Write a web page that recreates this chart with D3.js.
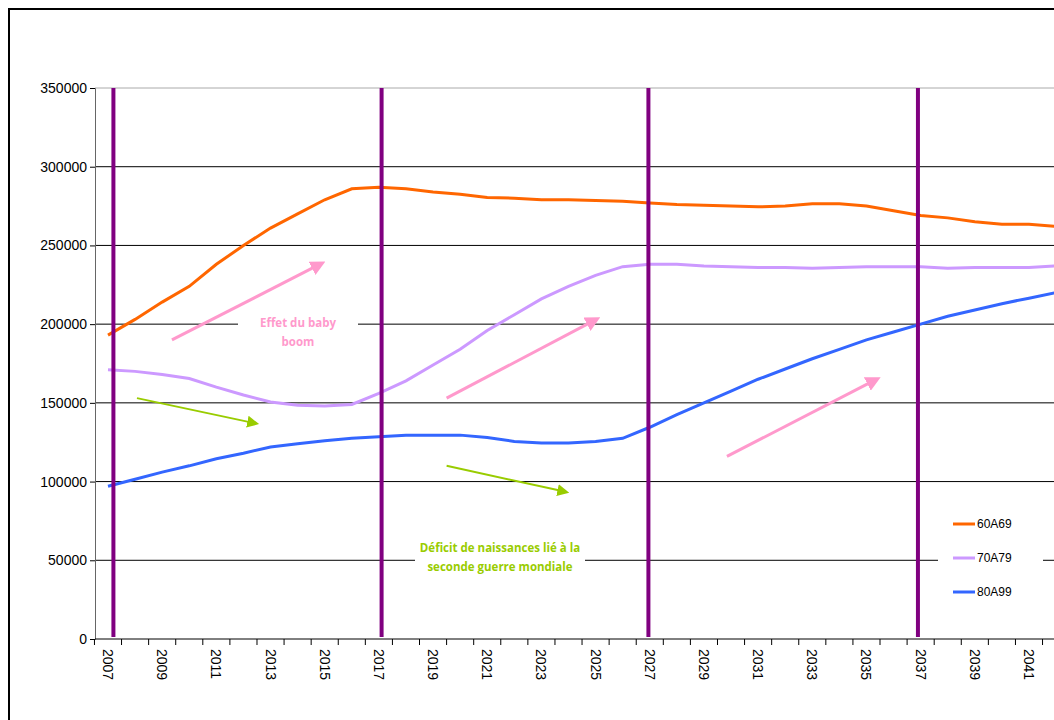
<!DOCTYPE html><html><head><meta charset="utf-8"><script src="https://cdn.jsdelivr.net/npm/d3@7"></script>
<style>body{margin:0;background:#fff}svg{display:block}</style></head><body><svg id="c" width="1054" height="720"></svg>
<script>
const years = d3.range(2007, 2043);
const s60A69 = [193000,203000,214000,224000,238000,250000,261000,270000,279000,286000,287000,286000,284000,282500,280500,280000,279000,279000,278500,278000,277000,276000,275500,275000,274500,275000,276500,276500,275000,272000,269000,267500,265000,263500,263500,262000];
const s70A79 = [171000,170000,168000,165500,160000,155000,150500,148500,148000,149000,156000,164000,174000,184000,196000,206000,216000,224000,231000,236500,238000,238000,237000,236500,236000,236000,235500,236000,236500,236500,236500,235500,236000,236000,236000,237000];
const s80A99 = [97000,101500,106000,110000,114500,118000,122000,124000,126000,127500,128500,129500,129500,129500,128000,125500,124500,124500,125500,127500,134500,142500,150000,157500,165000,171500,178000,184000,190000,195000,200000,205000,209000,213000,216500,220000];
const seriesNames = ["60A69","70A79","80A99"];
const colors = ["#ff6600","#cc99ff","#3366ff"];
const yTicks = [0,50000,100000,150000,200000,250000,300000,350000];
const markerYears = [2007.2,2017.1,2026.95,2036.9];
const pinkArrows = [[2009.36,190000,2015.0,239500],[2019.5,153000,2025.15,204000],[2029.85,116000,2035.5,166000]];
const greenArrows = [[2008.07,153000,2012.6,136500],[2019.5,110000,2024.05,93000]];

const svg = d3.select("#c");
const x = d3.scaleLinear().domain([2007,2041]).range([108,1029]);
const y = d3.scaleLinear().domain([0,350000]).range([639,88]);
const L=95, R=1054;
svg.append("rect").attr("x",9).attr("y",9).attr("width",1100).attr("height",800).attr("fill","none").attr("stroke","#000").attr("stroke-width",2);
const defs=svg.append("defs");
[["pk","#ff99cc"],["gr","#99cc00"]].forEach(([id,c])=>defs.append("marker").attr("id",id).attr("viewBox","0 0 10 10").attr("refX",2).attr("refY",5).attr("markerWidth",id==="pk"?5:6).attr("markerHeight",id==="pk"?5:6).attr("orient","auto").append("path").attr("d","M0,0L10,5L0,10z").attr("fill",c));
svg.append("g").selectAll("line").data(yTicks.slice(1)).join("line").attr("x1",L).attr("x2",R).attr("y1",d=>y(d)).attr("y2",d=>y(d)).attr("stroke",d=>d===350000?"#aaa":"#000").attr("stroke-width",1);
const ya=svg.append("g").attr("transform",`translate(${L},0)`).call(d3.axisLeft(y).tickValues(yTicks).tickFormat(d3.format("d")).tickSize(5));
ya.select(".domain").attr("stroke","#666");
ya.selectAll("text").attr("font-family","Liberation Sans, Arial").attr("font-size",14).attr("fill","#000");
svg.append("line").attr("x1",L).attr("x2",R).attr("y1",639).attr("y2",639).attr("stroke","#000");
const xa=svg.append("g");
d3.range(2007,2043).forEach(yr=>{xa.append("line").attr("x1",x(yr-0.5)).attr("x2",x(yr-0.5)).attr("y1",639).attr("y2",645).attr("stroke","#000");});
xa.selectAll("text").data(years.filter(d=>(d-2007)%2===0)).join("text").attr("transform",d=>`translate(${x(d)-5},649) rotate(90)`).attr("font-family","Liberation Sans, Arial").attr("font-size",14).text(d=>d);
const line=d3.line().x((d,i)=>x(years[i])).y(d=>y(d));
[s60A69,s70A79,s80A99].forEach((s,i)=>svg.append("path").attr("d",line(s)).attr("fill","none").attr("stroke",colors[i]).attr("stroke-width",3));
svg.selectAll(".mk").data(markerYears).join("line").attr("x1",d=>x(d)).attr("x2",d=>x(d)).attr("y1",88).attr("y2",637).attr("stroke","#800080").attr("stroke-width",4);
pinkArrows.forEach(a=>svg.append("line").attr("x1",x(a[0])).attr("y1",y(a[1])).attr("x2",x(a[2])-10).attr("y2",y(a[3])+5).attr("stroke","#ff99cc").attr("stroke-width",3).attr("marker-end","url(#pk)"));
greenArrows.forEach(a=>svg.append("line").attr("x1",x(a[0])).attr("y1",y(a[1])).attr("x2",x(a[2])-10).attr("y2",y(a[3])-2).attr("stroke","#99cc00").attr("stroke-width",2).attr("marker-end","url(#gr)"));
function box(cx,cy,w,h,lines,col){svg.append("rect").attr("x",cx-w/2).attr("y",cy).attr("width",w).attr("height",h).attr("fill","#fff");
 lines.forEach((t,i)=>svg.append("text").attr("x",cx).attr("y",cy+16+i*19).attr("text-anchor","middle").attr("font-family","Open Sans, sans-serif").attr("font-weight","bold").attr("font-size",11.5).attr("fill",col).text(t));}
box(298,311,120,46,["Effet du baby","boom"],"#ff99cc");
box(500,536,170,46,["Déficit de naissances lié à la","seconde guerre mondiale"],"#99cc00");
svg.append("rect").attr("x",938).attr("y",505).attr("width",105).attr("height",105).attr("fill","#fff");
seriesNames.forEach((n,i)=>{const yy=524+i*34;
 svg.append("line").attr("x1",953).attr("x2",975).attr("y1",yy).attr("y2",yy).attr("stroke",colors[i]).attr("stroke-width",3);
 svg.append("text").attr("x",977).attr("y",yy+4).attr("font-family","Liberation Sans, Arial").attr("font-size",12).text(n);});
</script></body></html>
